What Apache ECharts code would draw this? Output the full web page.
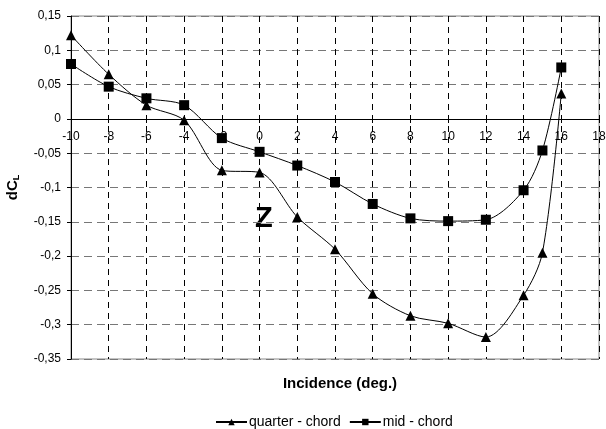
<!DOCTYPE html>
<html><head><meta charset="utf-8">
<script src="https://cdn.jsdelivr.net/npm/echarts@6/dist/echarts.min.js"></script>
<style>html,body{margin:0;padding:0;background:#fff}#c{width:606px;height:429px}</style>
</head><body><div id="c"></div>
<script>
const incidence = [-10,-8,-6,-4,-2,0,2,4,6,8,10,12,14,15,16];
const quarterChord = [0.122,0.065,0.020,-0.002,-0.075,-0.078,-0.143,-0.190,-0.255,-0.287,-0.298,-0.318,-0.257,-0.195,0.037];
const midChord = [0.080,0.047,0.030,0.020,-0.028,-0.048,-0.068,-0.092,-0.124,-0.145,-0.149,-0.147,-0.104,-0.046,0.075];
const seriesNames = ['quarter - chord','mid - chord'];

const font = 'Liberation Sans, Arial, sans-serif';
const fmt = v => String(parseFloat(v.toFixed(2))).replace('.', ',');
const chart = echarts.init(document.getElementById('c'));
chart.setOption({
  animation:false,
  backgroundColor:'#fff',
  textStyle:{fontFamily:font},
  grid:{left:71,right:7,top:16,bottom:70,show:true,borderColor:'#888',borderWidth:1,outerBoundsMode:'none',containLabel:false},
  title:{text:'Incidence (deg.)',left:335,top:371,textAlign:'center',
    textStyle:{fontSize:15,fontWeight:'bold',color:'#000',fontFamily:font}},
  legend:{top:410,left:210,itemWidth:31,itemHeight:8,itemGap:8,
    textStyle:{fontSize:14,color:'#000',fontFamily:font,padding:[0,0,0,-3]},data:seriesNames},
  xAxis:{type:'value',min:-10,max:18,interval:2,position:'bottom',offset:-240,
    axisLine:{onZero:false,lineStyle:{color:'#000',width:1}},
    axisTick:{show:true,length:4,lineStyle:{color:'#000'}},
    axisLabel:{fontSize:12,color:'#000',fontFamily:font,margin:12},
    splitLine:{show:true,lineStyle:{color:'#000',type:[6,5],width:1}}},
  yAxis:{type:'value',min:-0.35,max:0.15,interval:0.05,
    name:'dC{s|L}',nameLocation:'middle',nameGap:50,nameRotate:90,
    nameTextStyle:{fontSize:15,fontWeight:'bold',color:'#000',fontFamily:font,
      rich:{s:{fontSize:9,fontWeight:'bold',color:'#000',verticalAlign:'bottom',padding:[7,0,0,0]}}},
    axisLine:{show:true,onZero:false,lineStyle:{color:'#000',width:1}},
    axisTick:{show:true,length:4,lineStyle:{color:'#000'}},
    axisLabel:{fontSize:12,color:'#000',fontFamily:font,formatter:fmt,margin:10},
    splitLine:{show:true,lineStyle:{color:'#777',type:[8,5],width:1.2}}},
  graphic:[{type:'text',left:255,top:204,style:{text:'Z',font:'bold 29px '+font,fill:'#000'}}],
  series:[
    {name:seriesNames[0],type:'line',smooth:0.3,symbol:'triangle',symbolSize:10,
     lineStyle:{color:'#000',width:1},itemStyle:{color:'#000'},
     data:incidence.map((x,i)=>[x,quarterChord[i]])},
    {name:seriesNames[1],type:'line',smooth:0.3,symbol:'rect',symbolSize:10,
     lineStyle:{color:'#000',width:1},itemStyle:{color:'#000'},
     data:incidence.map((x,i)=>[x,midChord[i]])}
  ]
});
</script></body></html>
